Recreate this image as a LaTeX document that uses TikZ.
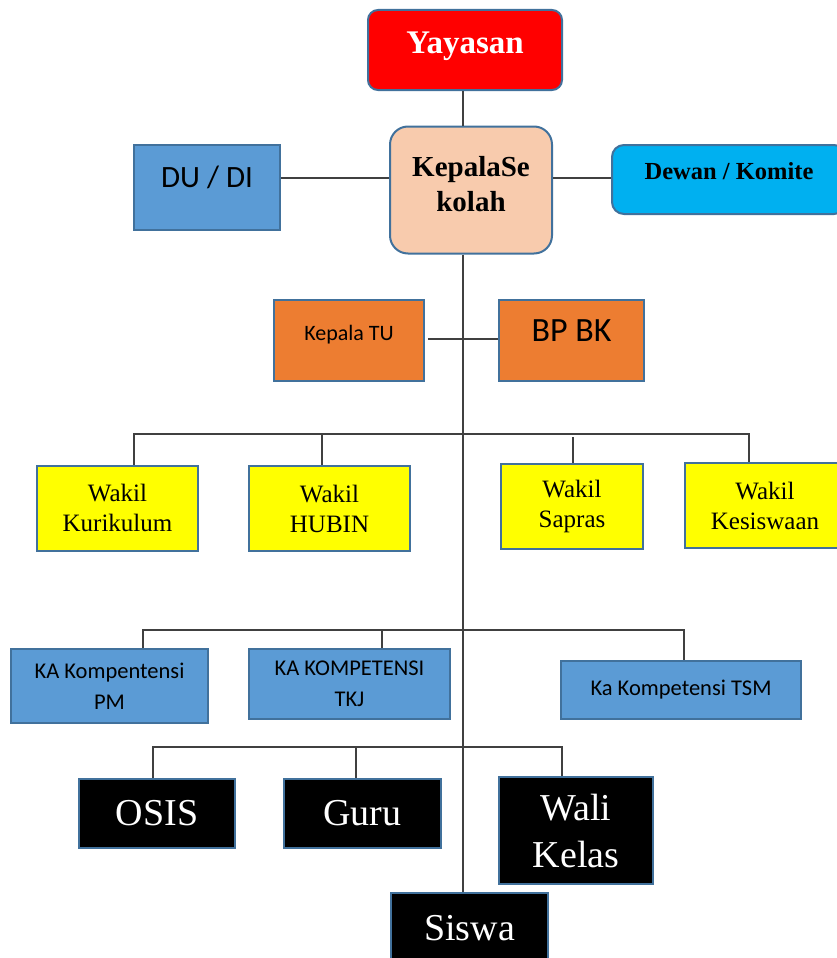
\documentclass[tikz,border=0pt]{standalone}
\usepackage{fontspec}
\setmainfont{Liberation Serif}
\setsansfont{Carlito}
\definecolor{cred}{HTML}{FF0000}
\definecolor{cpeach}{HTML}{F8CBAD}
\definecolor{cblue}{HTML}{5B9BD5}
\definecolor{ccyan}{HTML}{00B0F0}
\definecolor{corange}{HTML}{ED7D31}
\definecolor{cyellow}{HTML}{FFFF00}
\definecolor{bord}{HTML}{41719C}
\definecolor{wire}{HTML}{404040}
\begin{document}
\begin{tikzpicture}[x=1pt,y=-1pt,
  box/.style={draw=bord, line width=2pt, inner sep=2pt, align=center},
  wirestyle/.style={draw=wire, line width=1.2pt},
]
\useasboundingbox (0,0) rectangle (837,958);
\clip (0,0) rectangle (837,958);

% top level
\node[box, fill=cred, rounded corners=10pt, minimum width=194, minimum height=80,
      text=white, text depth=15pt, font=\fontsize{33}{36}\selectfont\bfseries] (yay) at (465,50) {Yayasan};
\node[box, fill=cpeach, rounded corners=18pt, minimum width=162, minimum height=127,
      text depth=12pt, font=\fontsize{29}{35}\selectfont\bfseries] (kep) at (471,190) {KepalaSe\\kolah};
\node[box, fill=cblue, minimum width=146, minimum height=85, text depth=20pt,
      font=\sffamily\fontsize{31}{33}\selectfont] (dudi) at (207,187) {DU / DI};
\node[box, fill=ccyan, rounded corners=12pt, minimum width=234, minimum height=69,
      text depth=18pt, font=\fontsize{24.5}{28}\selectfont\bfseries] (dewan) at (729,179.5) {Dewan / Komite};

% TU / BK
\node[box, fill=corange, minimum width=150, minimum height=81, text depth=16pt,
      font=\sffamily\fontsize{22}{24}\selectfont] (ktu) at (349,340.5) {Kepala TU};
\node[box, fill=corange, minimum width=145, minimum height=81, text depth=20pt,
      font=\sffamily\fontsize{34}{36}\selectfont] (bpbk) at (571.5,340.5) {BP BK};

% wakil
\tikzset{wk/.style={box, fill=cyellow, minimum height=85, font=\fontsize{25}{30}\selectfont}}
\node[wk, minimum width=161] (wk1) at (117.5,508) {Wakil\\Kurikulum};
\node[wk, minimum width=161] (wk2) at (329.5,508.5) {Wakil\\HUBIN};
\node[wk, minimum width=142] (wk3) at (572,506.5) {Wakil\\Sapras};
\node[wk, minimum width=160] (wk4) at (765,505.5) {Wakil\\Kesiswaan};

% kompetensi
\tikzset{ka/.style={box, fill=cblue, font=\sffamily\fontsize{22.5}{31}\selectfont}}
\node[ka, minimum width=197, minimum height=74] (ka1) at (109.5,686) {KA Kompentensi\\PM};
\node[ka, minimum width=201, minimum height=70] (ka2) at (349.5,684) {KA KOMPETENSI\\TKJ};
\node[ka, minimum width=240, minimum height=58] (ka3) at (681,690) {Ka Kompetensi TSM};

% black boxes
\tikzset{bk/.style={box, fill=black, text=white, font=\fontsize{38}{47}\selectfont}}
\node[bk, minimum width=156, minimum height=69] (osis) at (157,813.5) {OSIS};
\node[bk, minimum width=157, minimum height=69] (guru) at (362.5,813.5) {Guru};
\node[bk, minimum width=154, minimum height=107] (wali) at (576,830.5) {Wali\\Kelas};
\node[bk, minimum width=157, minimum height=70] (siswa) at (469.5,928) {Siswa};

% connectors
\coordinate (trunk) at (463,0);
\coordinate (hy) at (0,178);
\draw[wirestyle] (yay.south -| trunk) -- (kep.north -| trunk);
\draw[wirestyle] (dudi.east |- hy) -- (kep.west |- hy);
\draw[wirestyle] (kep.east |- hy) -- (dewan.west |- hy);
\draw[wirestyle] (kep.south -| trunk) -- (siswa.north -| trunk);
\coordinate (ktuR) at (428,339);
\draw[wirestyle] (ktuR) -- (bpbk.west |- ktuR);

% wakil bus
\coordinate (w1) at (134,434);
\coordinate (w2) at (322,434);
\coordinate (w3) at (573,437);
\coordinate (w4) at (749,434);
\draw[wirestyle] (w1 |- wk1.north) -- (w1) -- (w4) -- (w4 |- wk4.north);
\draw[wirestyle] (w2) -- (w2 |- wk2.north);
\draw[wirestyle] (w3) -- (w3 |- wk3.north);

% kompetensi bus
\coordinate (k1) at (143,630);
\coordinate (k2) at (382,630);
\coordinate (k3) at (684,630);
\draw[wirestyle] (k1 |- ka1.north) -- (k1) -- (k3) -- (k3 |- ka3.north);
\draw[wirestyle] (k2) -- (k2 |- ka2.north);

% bottom bus
\coordinate (b1) at (153,747);
\coordinate (b2) at (356,747);
\coordinate (b3) at (562,747);
\draw[wirestyle] (b1 |- osis.north) -- (b1) -- (b3) -- (b3 |- wali.north);
\draw[wirestyle] (b2) -- (b2 |- guru.north);
\end{tikzpicture}
\end{document}
